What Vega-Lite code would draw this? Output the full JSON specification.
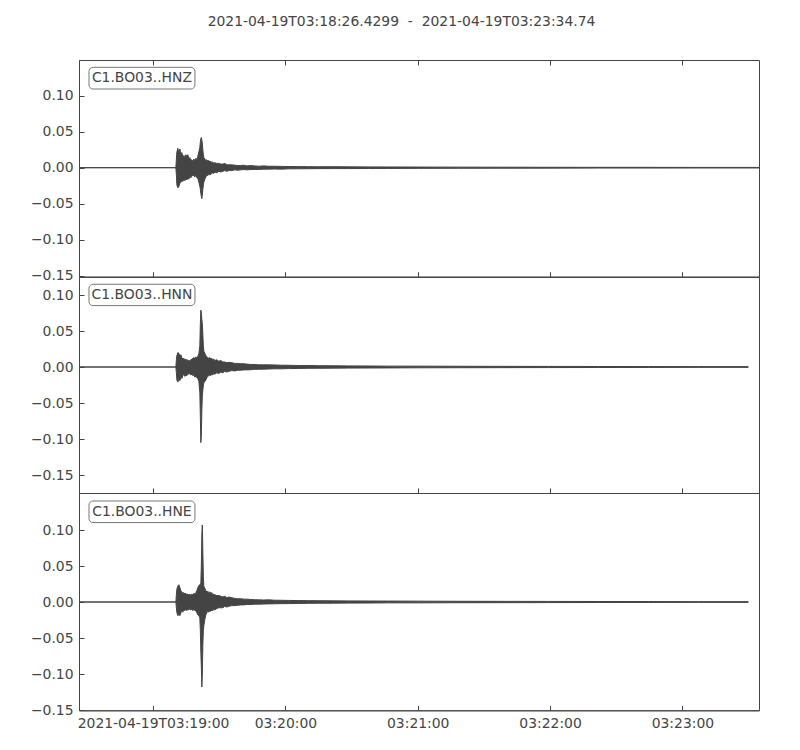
{
  "$schema": "https://vega.github.io/schema/vega-lite/v6.json",
  "padding": {"left": 29, "top": 15, "right": 40, "bottom": 10},
  "bounds": "flush",
  "spacing": 0,
  "title": {"text": "2021-04-19T03:18:26.4299\u00a0\u00a0-\u00a0\u00a02021-04-19T03:23:34.74", "fontSize": 13.9, "fontWeight": "normal", "color": "#444", "offset": 30, "dx": 6, "anchor": "middle"},
  "config": {
    "font": "DejaVu Sans",
    "view": {"stroke": "#444", "strokeWidth": 1},
    "axis": {"grid": false, "title": null, "domainColor": "#444", "tickColor": "#444", "labelColor": "#444", "labelFontSize": 13.9, "labelFont": "DejaVu Sans", "tickSize": -5, "labelPadding": 11}
  },
  "datasets": {
    "w": [
      {"t":"2021-04-19T03:18:26.43Z","zh":0,"zl":0,"nh":0,"nl":0,"eh":0,"el":0},
      {"t":"2021-04-19T03:19:10.35Z","zh":0,"zl":0,"nh":0,"nl":0,"eh":0,"el":0},
      {"t":"2021-04-19T03:19:10.58Z","zh":0.012,"zl":-0.010,"nh":0.010,"nl":-0.008,"eh":0.010,"el":-0.008},
      {"t":"2021-04-19T03:19:10.81Z","zh":0.022,"zl":-0.024,"nh":0.016,"nl":-0.018,"eh":0.018,"el":-0.015},
      {"t":"2021-04-19T03:19:11.26Z","zh":0.027,"zl":-0.028,"nh":0.020,"nl":-0.021,"eh":0.022,"el":-0.019},
      {"t":"2021-04-19T03:19:11.71Z","zh":0.020,"zl":-0.026,"nh":0.019,"nl":-0.016,"eh":0.024,"el":-0.017},
      {"t":"2021-04-19T03:19:12.17Z","zh":0.026,"zl":-0.022,"nh":0.015,"nl":-0.019,"eh":0.020,"el":-0.019},
      {"t":"2021-04-19T03:19:12.62Z","zh":0.018,"zl":-0.020,"nh":0.017,"nl":-0.014,"eh":0.016,"el":-0.015},
      {"t":"2021-04-19T03:19:13.07Z","zh":0.021,"zl":-0.018,"nh":0.013,"nl":-0.016,"eh":0.014,"el":-0.013},
      {"t":"2021-04-19T03:19:13.52Z","zh":0.015,"zl":-0.019,"nh":0.011,"nl":-0.012,"eh":0.012,"el":-0.014},
      {"t":"2021-04-19T03:19:13.98Z","zh":0.017,"zl":-0.016,"nh":0.012,"nl":-0.010,"eh":0.013,"el":-0.011},
      {"t":"2021-04-19T03:19:14.43Z","zh":0.014,"zl":-0.018,"nh":0.010,"nl":-0.013,"eh":0.011,"el":-0.012},
      {"t":"2021-04-19T03:19:14.88Z","zh":0.018,"zl":-0.015,"nh":0.011,"nl":-0.011,"eh":0.012,"el":-0.010},
      {"t":"2021-04-19T03:19:15.34Z","zh":0.016,"zl":-0.017,"nh":0.009,"nl":-0.012,"eh":0.010,"el":-0.012},
      {"t":"2021-04-19T03:19:15.79Z","zh":0.018,"zl":-0.014,"nh":0.010,"nl":-0.009,"eh":0.011,"el":-0.010},
      {"t":"2021-04-19T03:19:16.24Z","zh":0.012,"zl":-0.016,"nh":0.008,"nl":-0.010,"eh":0.010,"el":-0.011},
      {"t":"2021-04-19T03:19:16.69Z","zh":0.014,"zl":-0.012,"nh":0.009,"nl":-0.009,"eh":0.011,"el":-0.009},
      {"t":"2021-04-19T03:19:17.15Z","zh":0.010,"zl":-0.014,"nh":0.010,"nl":-0.011,"eh":0.009,"el":-0.011},
      {"t":"2021-04-19T03:19:17.60Z","zh":0.011,"zl":-0.012,"nh":0.011,"nl":-0.010,"eh":0.011,"el":-0.010},
      {"t":"2021-04-19T03:19:18.05Z","zh":0.009,"zl":-0.010,"nh":0.012,"nl":-0.012,"eh":0.010,"el":-0.012},
      {"t":"2021-04-19T03:19:18.51Z","zh":0.012,"zl":-0.011,"nh":0.013,"nl":-0.011,"eh":0.012,"el":-0.010},
      {"t":"2021-04-19T03:19:18.96Z","zh":0.010,"zl":-0.013,"nh":0.012,"nl":-0.014,"eh":0.011,"el":-0.012},
      {"t":"2021-04-19T03:19:19.41Z","zh":0.013,"zl":-0.010,"nh":0.014,"nl":-0.013,"eh":0.013,"el":-0.012},
      {"t":"2021-04-19T03:19:19.86Z","zh":0.011,"zl":-0.014,"nh":0.013,"nl":-0.015,"eh":0.016,"el":-0.015},
      {"t":"2021-04-19T03:19:20.32Z","zh":0.016,"zl":-0.015,"nh":0.015,"nl":-0.016,"eh":0.020,"el":-0.018},
      {"t":"2021-04-19T03:19:20.77Z","zh":0.022,"zl":-0.020,"nh":0.018,"nl":-0.020,"eh":0.023,"el":-0.019},
      {"t":"2021-04-19T03:19:21.22Z","zh":0.028,"zl":-0.026,"nh":0.030,"nl":-0.035,"eh":0.024,"el":-0.022},
      {"t":"2021-04-19T03:19:21.45Z","zh":0.036,"zl":-0.030,"nh":0.060,"nl":-0.070,"eh":0.022,"el":-0.040},
      {"t":"2021-04-19T03:19:21.68Z","zh":0.040,"zl":-0.036,"nh":0.079,"nl":-0.105,"eh":0.027,"el":-0.070},
      {"t":"2021-04-19T03:19:21.90Z","zh":0.042,"zl":-0.040,"nh":0.075,"nl":-0.095,"eh":0.050,"el":-0.090},
      {"t":"2021-04-19T03:19:22.13Z","zh":0.038,"zl":-0.043,"nh":0.066,"nl":-0.060,"eh":0.095,"el":-0.118},
      {"t":"2021-04-19T03:19:22.35Z","zh":0.034,"zl":-0.038,"nh":0.060,"nl":-0.040,"eh":0.107,"el":-0.100},
      {"t":"2021-04-19T03:19:22.58Z","zh":0.025,"zl":-0.030,"nh":0.045,"nl":-0.032,"eh":0.070,"el":-0.060},
      {"t":"2021-04-19T03:19:22.81Z","zh":0.018,"zl":-0.024,"nh":0.030,"nl":-0.026,"eh":0.035,"el":-0.040},
      {"t":"2021-04-19T03:19:23.03Z","zh":0.014,"zl":-0.020,"nh":0.022,"nl":-0.022,"eh":0.022,"el":-0.033},
      {"t":"2021-04-19T03:19:23.49Z","zh":0.012,"zl":-0.016,"nh":0.019,"nl":-0.020,"eh":0.019,"el":-0.024},
      {"t":"2021-04-19T03:19:23.94Z","zh":0.010,"zl":-0.013,"nh":0.016,"nl":-0.018,"eh":0.016,"el":-0.018},
      {"t":"2021-04-19T03:19:24.39Z","zh":0.011,"zl":-0.010,"nh":0.014,"nl":-0.015,"eh":0.014,"el":-0.015},
      {"t":"2021-04-19T03:19:24.85Z","zh":0.009,"zl":-0.011,"nh":0.013,"nl":-0.013,"eh":0.015,"el":-0.013},
      {"t":"2021-04-19T03:19:25.30Z","zh":0.010,"zl":-0.008,"nh":0.012,"nl":-0.012,"eh":0.013,"el":-0.014},
      {"t":"2021-04-19T03:19:25.75Z","zh":0.008,"zl":-0.010,"nh":0.013,"nl":-0.011,"eh":0.014,"el":-0.012},
      {"t":"2021-04-19T03:19:26.20Z","zh":0.009,"zl":-0.009,"nh":0.011,"nl":-0.012,"eh":0.012,"el":-0.013},
      {"t":"2021-04-19T03:19:26.66Z","zh":0.007,"zl":-0.008,"nh":0.012,"nl":-0.010,"eh":0.013,"el":-0.011},
      {"t":"2021-04-19T03:19:27.11Z","zh":0.008,"zl":-0.007,"nh":0.010,"nl":-0.011,"eh":0.010,"el":-0.012},
      {"t":"2021-04-19T03:19:27.56Z","zh":0.006,"zl":-0.008,"nh":0.011,"nl":-0.009,"eh":0.011,"el":-0.010},
      {"t":"2021-04-19T03:19:28.01Z","zh":0.007,"zl":-0.006,"nh":0.009,"nl":-0.010,"eh":0.010,"el":-0.011},
      {"t":"2021-04-19T03:19:28.92Z","zh":0.006,"zl":-0.007,"nh":0.010,"nl":-0.008,"eh":0.009,"el":-0.009},
      {"t":"2021-04-19T03:19:29.83Z","zh":0.006,"zl":-0.005,"nh":0.008,"nl":-0.009,"eh":0.009,"el":-0.008},
      {"t":"2021-04-19T03:19:30.73Z","zh":0.005,"zl":-0.006,"nh":0.009,"nl":-0.007,"eh":0.008,"el":-0.008},
      {"t":"2021-04-19T03:19:31.64Z","zh":0.005,"zl":-0.005,"nh":0.007,"nl":-0.008,"eh":0.007,"el":-0.008},
      {"t":"2021-04-19T03:19:32.54Z","zh":0.006,"zl":-0.004,"nh":0.007,"nl":-0.006,"eh":0.008,"el":-0.006},
      {"t":"2021-04-19T03:19:33.45Z","zh":0.004,"zl":-0.005,"nh":0.006,"nl":-0.007,"eh":0.006,"el":-0.007},
      {"t":"2021-04-19T03:19:34.35Z","zh":0.004,"zl":-0.004,"nh":0.0065,"nl":-0.006,"eh":0.007,"el":-0.006},
      {"t":"2021-04-19T03:19:35.71Z","zh":0.004,"zl":-0.004,"nh":0.006,"nl":-0.005,"eh":0.006,"el":-0.005},
      {"t":"2021-04-19T03:19:37.07Z","zh":0.0035,"zl":-0.003,"nh":0.005,"nl":-0.0055,"eh":0.005,"el":-0.005},
      {"t":"2021-04-19T03:19:38.43Z","zh":0.003,"zl":-0.0035,"nh":0.005,"nl":-0.0045,"eh":0.0045,"el":-0.0045},
      {"t":"2021-04-19T03:19:39.79Z","zh":0.003,"zl":-0.003,"nh":0.0045,"nl":-0.0045,"eh":0.0045,"el":-0.004},
      {"t":"2021-04-19T03:19:41.15Z","zh":0.0035,"zl":-0.0025,"nh":0.0045,"nl":-0.004,"eh":0.004,"el":-0.004},
      {"t":"2021-04-19T03:19:42.51Z","zh":0.0025,"zl":-0.003,"nh":0.004,"nl":-0.004,"eh":0.004,"el":-0.0035},
      {"t":"2021-04-19T03:19:44.32Z","zh":0.003,"zl":-0.0025,"nh":0.0035,"nl":-0.0038,"eh":0.0035,"el":-0.0035},
      {"t":"2021-04-19T03:19:46.13Z","zh":0.0025,"zl":-0.0025,"nh":0.0035,"nl":-0.0032,"eh":0.0032,"el":-0.003},
      {"t":"2021-04-19T03:19:47.94Z","zh":0.002,"zl":-0.0025,"nh":0.003,"nl":-0.0032,"eh":0.003,"el":-0.003},
      {"t":"2021-04-19T03:19:50.20Z","zh":0.0025,"zl":-0.002,"nh":0.003,"nl":-0.003,"eh":0.0028,"el":-0.0028},
      {"t":"2021-04-19T03:19:52.47Z","zh":0.002,"zl":-0.002,"nh":0.003,"nl":-0.0028,"eh":0.003,"el":-0.0026},
      {"t":"2021-04-19T03:19:55.18Z","zh":0.002,"zl":-0.0018,"nh":0.0028,"nl":-0.0025,"eh":0.0025,"el":-0.0025},
      {"t":"2021-04-19T03:19:57.90Z","zh":0.0018,"zl":-0.002,"nh":0.0025,"nl":-0.0025,"eh":0.0024,"el":-0.0023},
      {"t":"2021-04-19T03:20:01.52Z","zh":0.0016,"zl":-0.0016,"nh":0.0024,"nl":-0.0022,"eh":0.0022,"el":-0.0022},
      {"t":"2021-04-19T03:20:06.05Z","zh":0.0015,"zl":-0.0015,"nh":0.002,"nl":-0.002,"eh":0.002,"el":-0.002},
      {"t":"2021-04-19T03:20:10.58Z","zh":0.0014,"zl":-0.0014,"nh":0.0021,"nl":-0.0018,"eh":0.0019,"el":-0.0018},
      {"t":"2021-04-19T03:20:15.11Z","zh":0.0013,"zl":-0.0013,"nh":0.0018,"nl":-0.0018,"eh":0.0018,"el":-0.0017},
      {"t":"2021-04-19T03:20:21.90Z","zh":0.0014,"zl":-0.0012,"nh":0.0017,"nl":-0.0016,"eh":0.0016,"el":-0.0016},
      {"t":"2021-04-19T03:20:28.69Z","zh":0.0012,"zl":-0.0012,"nh":0.0015,"nl":-0.0015,"eh":0.0015,"el":-0.0015},
      {"t":"2021-04-19T03:20:37.75Z","zh":0.0011,"zl":-0.0011,"nh":0.0014,"nl":-0.0014,"eh":0.0014,"el":-0.0014},
      {"t":"2021-04-19T03:20:46.81Z","zh":0.001,"zl":-0.001,"nh":0.0012,"nl":-0.0013,"eh":0.0013,"el":-0.0012},
      {"t":"2021-04-19T03:21:00.39Z","zh":0.0009,"zl":-0.0009,"nh":0.0012,"nl":-0.0011,"eh":0.0012,"el":-0.0012},
      {"t":"2021-04-19T03:21:18.51Z","zh":0.0008,"zl":-0.0008,"nh":0.001,"nl":-0.001,"eh":0.001,"el":-0.001},
      {"t":"2021-04-19T03:21:36.62Z","zh":0.0007,"zl":-0.0007,"nh":0.0009,"nl":-0.0009,"eh":0.0009,"el":-0.0009},
      {"t":"2021-04-19T03:21:59.26Z","zh":0.0006,"zl":-0.0006,"nh":0.0008,"nl":-0.0008,"eh":0.0008,"el":-0.0008},
      {"t":"2021-04-19T03:22:21.90Z","zh":0.0005,"zl":-0.0005,"nh":0.0007,"nl":-0.0007,"eh":0.0007,"el":-0.0007},
      {"t":"2021-04-19T03:22:44.54Z","zh":0.0005,"zl":-0.0005,"nh":0.0006,"nl":-0.0006,"eh":0.0006,"el":-0.0006},
      {"t":"2021-04-19T03:23:07.18Z","zh":0.0004,"zl":-0.0004,"nh":0.0005,"nl":-0.0005,"eh":0.0005,"el":-0.0005},
      {"t":"2021-04-19T03:23:29.83Z","zh":0.0004,"zl":-0.0004,"nh":0.0005,"nl":-0.0005,"eh":0.0005,"el":-0.0005},
      {"t":"2021-04-19T03:23:34.74Z","zh":0.0004,"zl":-0.0004,"nh":null,"nl":null,"eh":null,"el":null}
    ]
  },
  "vconcat": [
    {
      "width": 680, "height": 216.7,
      "resolve": {"axis": {"x": "independent"}},
      "layer": [
        {
          "data": {"name": "w"},
          "mark": {"type": "area", "fill": "#444", "stroke": "#444", "strokeWidth": 1},
          "encoding": {
            "x": {"field": "t", "type": "temporal", "scale": {"type": "utc", "domain": [{"year":2021,"month":4,"date":19,"hours":3,"minutes":18,"seconds":26,"milliseconds":430,"utc":true},{"year":2021,"month":4,"date":19,"hours":3,"minutes":23,"seconds":34,"milliseconds":740,"utc":true}]},
              "axis": {"labels": false, "values": [{"year":2021,"month":4,"date":19,"hours":3,"minutes":19,"utc":true},{"year":2021,"month":4,"date":19,"hours":3,"minutes":20,"utc":true},{"year":2021,"month":4,"date":19,"hours":3,"minutes":21,"utc":true},{"year":2021,"month":4,"date":19,"hours":3,"minutes":22,"utc":true},{"year":2021,"month":4,"date":19,"hours":3,"minutes":23,"utc":true}]}},
            "y": {"field": "zh", "type": "quantitative", "scale": {"domain": [-0.1514, 0.1496], "nice": false, "zero": false},
              "axis": {"values": [-0.15, -0.1, -0.05, 0, 0.05, 0.1], "format": ".2f", "minExtent": 49, "maxExtent": 49}},
            "y2": {"field": "zl"}
          }
        },
        {
          "data": {"values": [{}]},
          "mark": {"type": "rect", "fill": "white", "stroke": "#777", "strokeWidth": 1, "cornerRadius": 4},
          "encoding": {
            "x": {"datum": {"year":2021,"month":4,"date":19,"hours":3,"minutes":18,"seconds":30,"milliseconds":960,"utc":true}, "type": "temporal", "scale": {"type": "utc"},
              "axis": {"orient": "top", "labels": false, "domain": false, "values": [{"year":2021,"month":4,"date":19,"hours":3,"minutes":19,"utc":true},{"year":2021,"month":4,"date":19,"hours":3,"minutes":20,"utc":true},{"year":2021,"month":4,"date":19,"hours":3,"minutes":21,"utc":true},{"year":2021,"month":4,"date":19,"hours":3,"minutes":22,"utc":true},{"year":2021,"month":4,"date":19,"hours":3,"minutes":23,"utc":true}]}},
            "x2": {"datum": {"year":2021,"month":4,"date":19,"hours":3,"minutes":19,"seconds":19,"utc":true}},
            "y": {"datum": 0.1394, "type": "quantitative"},
            "y2": {"datum": 0.1093}
          }
        },
        {
          "data": {"values": [{}]},
          "mark": {"type": "text", "text": "C1.BO03..HNZ", "fontSize": 13.9, "color": "#444", "align": "center", "baseline": "middle"},
          "encoding": {
            "x": {"datum": {"year":2021,"month":4,"date":19,"hours":3,"minutes":18,"seconds":54,"milliseconds":960,"utc":true}, "type": "temporal", "scale": {"type": "utc"}, "axis": null},
            "y": {"datum": 0.1246, "type": "quantitative"}
          }
        }
      ]
    },
    {
      "width": 680, "height": 216,
      "layer": [
        {
          "data": {"name": "w"},
          "mark": {"type": "area", "fill": "#444", "stroke": "#444", "strokeWidth": 1},
          "encoding": {
            "x": {"field": "t", "type": "temporal", "scale": {"type": "utc", "domain": [{"year":2021,"month":4,"date":19,"hours":3,"minutes":18,"seconds":26,"milliseconds":430,"utc":true},{"year":2021,"month":4,"date":19,"hours":3,"minutes":23,"seconds":34,"milliseconds":740,"utc":true}]},
              "axis": {"labels": false, "values": [{"year":2021,"month":4,"date":19,"hours":3,"minutes":19,"utc":true},{"year":2021,"month":4,"date":19,"hours":3,"minutes":20,"utc":true},{"year":2021,"month":4,"date":19,"hours":3,"minutes":21,"utc":true},{"year":2021,"month":4,"date":19,"hours":3,"minutes":22,"utc":true},{"year":2021,"month":4,"date":19,"hours":3,"minutes":23,"utc":true}]}},
            "y": {"field": "nh", "type": "quantitative", "scale": {"domain": [-0.175, 0.125], "nice": false, "zero": false},
              "axis": {"values": [-0.15, -0.1, -0.05, 0, 0.05, 0.1], "format": ".2f", "minExtent": 49, "maxExtent": 49}},
            "y2": {"field": "nl"}
          }
        },
        {
          "data": {"values": [{}]},
          "mark": {"type": "rect", "fill": "white", "stroke": "#777", "strokeWidth": 1, "cornerRadius": 4},
          "encoding": {
            "x": {"datum": {"year":2021,"month":4,"date":19,"hours":3,"minutes":18,"seconds":30,"milliseconds":960,"utc":true}, "type": "temporal", "scale": {"type": "utc"}},
            "x2": {"datum": {"year":2021,"month":4,"date":19,"hours":3,"minutes":19,"seconds":19,"utc":true}},
            "y": {"datum": 0.1149, "type": "quantitative"},
            "y2": {"datum": 0.0853}
          }
        },
        {
          "data": {"values": [{}]},
          "mark": {"type": "text", "text": "C1.BO03..HNN", "fontSize": 13.9, "color": "#444", "align": "center", "baseline": "middle"},
          "encoding": {
            "x": {"datum": {"year":2021,"month":4,"date":19,"hours":3,"minutes":18,"seconds":54,"milliseconds":960,"utc":true}, "type": "temporal", "scale": {"type": "utc"}},
            "y": {"datum": 0.1, "type": "quantitative"}
          }
        }
      ]
    },
    {
      "width": 680, "height": 217.3,
      "layer": [
        {
          "data": {"name": "w"},
          "mark": {"type": "area", "fill": "#444", "stroke": "#444", "strokeWidth": 1},
          "encoding": {
            "x": {"field": "t", "type": "temporal", "scale": {"type": "utc", "domain": [{"year":2021,"month":4,"date":19,"hours":3,"minutes":18,"seconds":26,"milliseconds":430,"utc":true},{"year":2021,"month":4,"date":19,"hours":3,"minutes":23,"seconds":34,"milliseconds":740,"utc":true}]},
              "axis": {"values": [{"year":2021,"month":4,"date":19,"hours":3,"minutes":19,"utc":true},{"year":2021,"month":4,"date":19,"hours":3,"minutes":20,"utc":true},{"year":2021,"month":4,"date":19,"hours":3,"minutes":21,"utc":true},{"year":2021,"month":4,"date":19,"hours":3,"minutes":22,"utc":true},{"year":2021,"month":4,"date":19,"hours":3,"minutes":23,"utc":true}],
                "labelExpr": "datum.index == 0 ? utcFormat(datum.value, '%Y-%m-%dT%H:%M:%S') : utcFormat(datum.value, '%H:%M:%S')", "labelFlush": false, "labelOverlap": false}},
            "y": {"field": "eh", "type": "quantitative", "scale": {"domain": [-0.1504, 0.1514], "nice": false, "zero": false},
              "axis": {"values": [-0.15, -0.1, -0.05, 0, 0.05, 0.1], "format": ".2f", "minExtent": 49, "maxExtent": 49}},
            "y2": {"field": "el"}
          }
        },
        {
          "data": {"values": [{}]},
          "mark": {"type": "rect", "fill": "white", "stroke": "#777", "strokeWidth": 1, "cornerRadius": 4},
          "encoding": {
            "x": {"datum": {"year":2021,"month":4,"date":19,"hours":3,"minutes":18,"seconds":30,"milliseconds":960,"utc":true}, "type": "temporal", "scale": {"type": "utc"}},
            "x2": {"datum": {"year":2021,"month":4,"date":19,"hours":3,"minutes":19,"seconds":19,"utc":true}},
            "y": {"datum": 0.1403, "type": "quantitative"},
            "y2": {"datum": 0.1103}
          }
        },
        {
          "data": {"values": [{}]},
          "mark": {"type": "text", "text": "C1.BO03..HNE", "fontSize": 13.9, "color": "#444", "align": "center", "baseline": "middle"},
          "encoding": {
            "x": {"datum": {"year":2021,"month":4,"date":19,"hours":3,"minutes":18,"seconds":54,"milliseconds":960,"utc":true}, "type": "temporal", "scale": {"type": "utc"}},
            "y": {"datum": 0.1253, "type": "quantitative"}
          }
        }
      ]
    }
  ]
}
